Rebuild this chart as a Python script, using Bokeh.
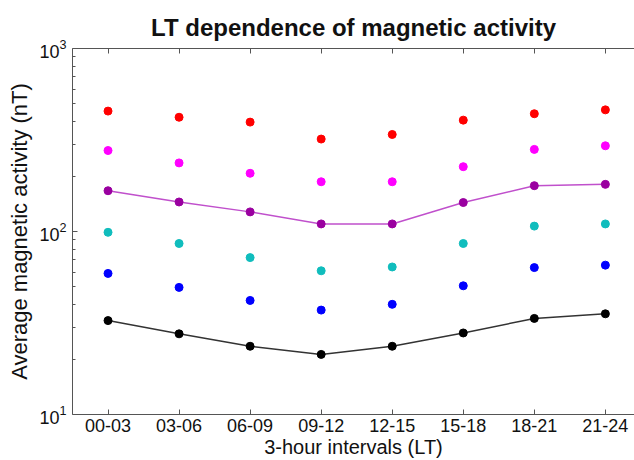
import numpy as np
from bokeh.plotting import figure
from bokeh.models import Range1d, FixedTicker, LinearAxis, LogTickFormatter
from bokeh.embed import file_html
from bokeh.resources import INLINE

intervals = ["00-03", "03-06", "06-09", "09-12", "12-15", "15-18", "18-21", "21-24"]
red_vals = [455, 421, 396, 320, 339, 406, 440, 462]
magenta_vals = [277, 237, 208, 187, 187, 226, 281, 294]
purple_vals = [167, 145, 128, 110, 110, 144, 178, 181]
cyan_vals = [99, 86, 72, 61, 64, 86, 107, 110]
blue_vals = [59, 49.5, 42, 37.2, 40, 50.5, 63.5, 65.5]
black_vals = [32.6, 27.6, 23.6, 21.3, 23.6, 27.9, 33.5, 35.5]
y_major = [10, 100, 1000]
y_minor = [20, 30, 40, 50, 60, 70, 80, 90, 200, 300, 400, 500, 600, 700, 800, 900]

x = list(range(1, len(intervals) + 1))

FONT = "Liberation Sans"

p = figure(width=634, height=460, output_backend="svg", toolbar_location=None,
           y_axis_type="log", x_range=Range1d(0.5, 8.41), y_range=Range1d(10, 1000),
           min_border_left=72, min_border_right=0, min_border_top=48, min_border_bottom=46)
p.outline_line_color = None
p.xgrid.visible = False
p.ygrid.visible = False
p.background_fill_color = "white"
p.border_fill_color = "white"

p.title.text = "LT dependence of magnetic activity"
p.title.text_font = FONT
p.title.text_font_size = "24px"
p.title.text_font_style = "bold"
p.title.align = "center"
p.title.text_color = "#111111"
p.title.standoff = 16

# bottom axis
xa = p.xaxis[0]
xa.ticker = FixedTicker(ticks=x)
xa.major_label_overrides = {i: lab for i, lab in zip(x, intervals)}
xa.axis_label = "3-hour intervals (LT)"
xa.axis_label_text_font = FONT
xa.axis_label_text_font_size = "20px"
xa.axis_label_text_font_style = "normal"
xa.axis_label_standoff = 1
xa.major_label_text_font = FONT
xa.major_label_text_font_size = "18px"
xa.major_label_standoff = 4
xa.major_tick_in = 5
xa.major_tick_out = 0
xa.minor_tick_in = 0
xa.minor_tick_out = 0
xa.axis_line_color = "#555555"
xa.major_tick_line_color = "#555555"
xa.major_label_text_color = "#111111"
xa.axis_label_text_color = "#111111"

# left axis
ya = p.yaxis[0]
ya.ticker = FixedTicker(ticks=y_major, minor_ticks=y_minor)
ya.formatter = LogTickFormatter()
ya.axis_label = "Average magnetic activity (nT)"
ya.axis_label_text_font = FONT
ya.axis_label_text_font_size = "22px"
ya.axis_label_text_font_style = "normal"
ya.axis_label_standoff = 4
ya.major_label_text_font = FONT
ya.major_label_text_font_size = "18px"
ya.major_label_standoff = 6
ya.major_tick_in = 5
ya.major_tick_out = 0
ya.minor_tick_in = 3
ya.minor_tick_out = 0
ya.axis_line_color = "#555555"
ya.major_tick_line_color = "#555555"
ya.minor_tick_line_color = "#555555"
ya.major_label_text_color = "#111111"
ya.axis_label_text_color = "#111111"

# top axis (ticks only)
top = LinearAxis(ticker=FixedTicker(ticks=x), major_label_overrides={i: "" for i in x},
                 major_tick_in=5, major_tick_out=0, minor_tick_in=0, minor_tick_out=0,
                 major_label_standoff=0, axis_line_color="#555555",
                 major_tick_line_color="#555555")
p.add_layout(top, "above")

# series
p.scatter(x, red_vals, size=8, color="#ff0000")
p.scatter(x, magenta_vals, size=8, color="#ff00ff")
p.line(x, purple_vals, line_color="#c050cc", line_width=1.5)
p.scatter(x, purple_vals, size=8, color="#9a00a0")
p.scatter(x, cyan_vals, size=8, color="#10bdbd")
p.scatter(x, blue_vals, size=8, color="#0000ff")
p.line(x, black_vals, line_color="#333333", line_width=1.5)
p.scatter(x, black_vals, size=8, color="#000000")

open("out.html", "w").write(file_html(p, INLINE))
